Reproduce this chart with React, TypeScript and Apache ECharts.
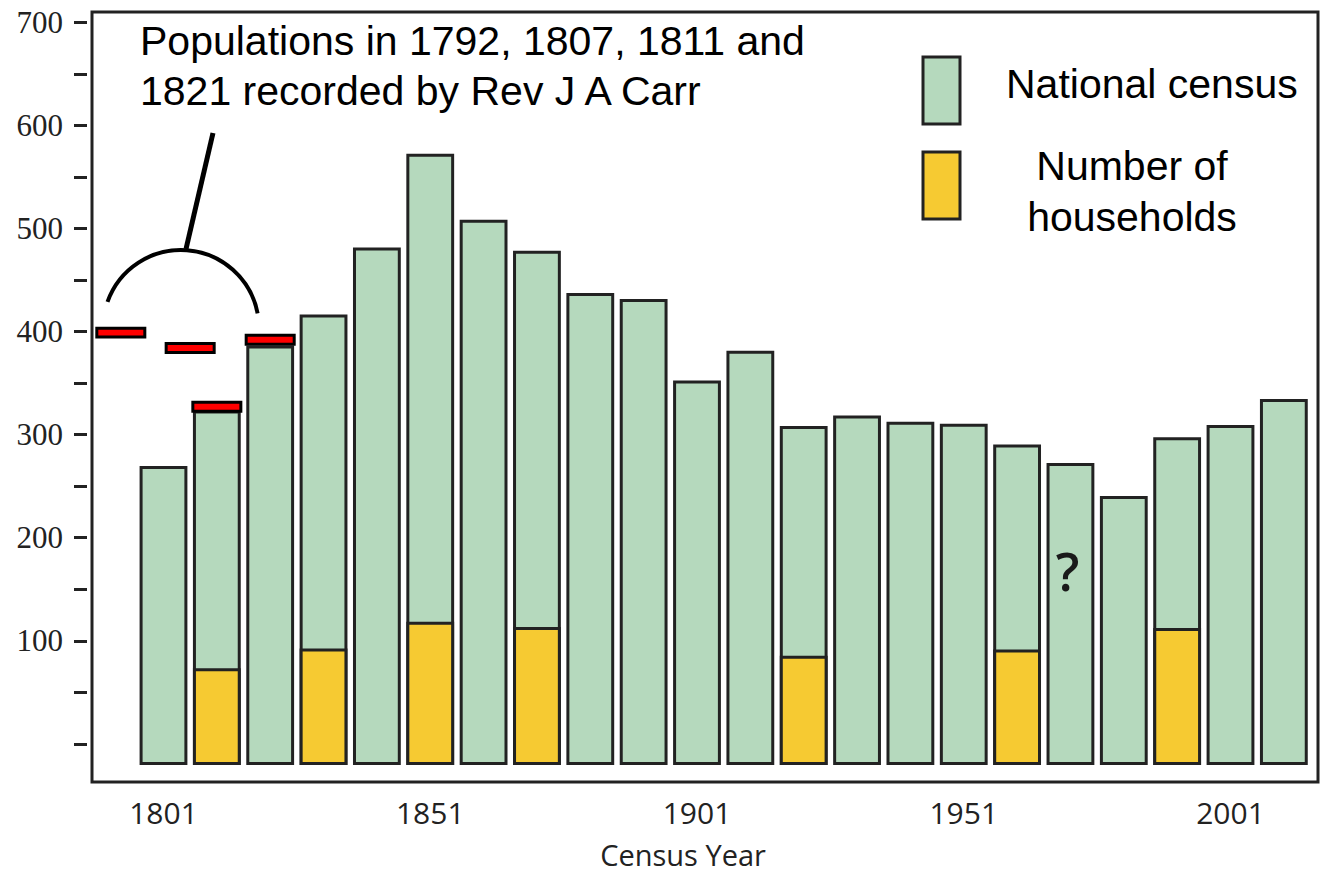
import React, { useEffect, useRef } from "react";
import * as echarts from "echarts";

// ---- Data ----
const censusYears = [1801, 1811, 1821, 1831, 1841, 1851, 1861, 1871, 1881, 1891, 1901, 1911, 1921, 1931, 1941, 1951, 1961, 1971, 1981, 1991, 2001, 2011];
const censusPopulation = [268, 322, 385, 415, 480, 571, 507, 477, 436, 430, 351, 380, 307, 317, 311, 309, 289, 271, 239, 296, 308, 333];

const householdYears = [1811, 1831, 1851, 1871, 1921, 1961, 1991];
const householdCounts = [72, 91, 117, 112, 84, 90, 111];

// Rev J A Carr records (plotted positions as drawn: 1792, 1807, 1811, 1821)
const carrYears = [1793, 1806, 1811, 1821];
const carrPopulation = [399, 384, 327, 392];

const uncertainYears = [1971];
const uncertainLabelValue = [166];

const yTickValues = [0, 50, 100, 150, 200, 250, 300, 350, 400, 450, 500, 550, 600, 650, 700];
const yLabelValues = [100, 200, 300, 400, 500, 600, 700];
const xLabelValues = [1801, 1851, 1901, 1951, 2001];

// ---- Styling constants ----
const GREEN = "#b5d9bd";
const YELLOW = "#f6ca32";
const RED = "#ff0000";
const INK = "#222222";
const BAR_BASE = -19;
const BAR_SPAN = 8.4; // years
const MARK_SPAN = 9; // years
const MARK_HALF = 4.3; // value units

function barRender(fill: string) {
  return (params: any, api: any) => {
    const x = api.value(0);
    const v = api.value(1);
    const p0 = api.coord([x, BAR_BASE]);
    const p1 = api.coord([x, v]);
    const w = api.size([BAR_SPAN, 0])[0];
    return {
      type: "rect",
      shape: { x: p0[0] - w / 2, y: p1[1], width: w, height: p0[1] - p1[1] },
      style: { fill, stroke: INK, lineWidth: 3 },
    };
  };
}

function markRender(params: any, api: any) {
  const x = api.value(0);
  const v = api.value(1);
  const pTop = api.coord([x, v + MARK_HALF]);
  const pBot = api.coord([x, v - MARK_HALF]);
  const w = api.size([MARK_SPAN, 0])[0];
  return {
    type: "rect",
    shape: { x: pTop[0] - w / 2, y: pTop[1], width: w, height: pBot[1] - pTop[1] },
    style: { fill: RED, stroke: "#000", lineWidth: 3 },
  };
}

export default function App() {
  const ref = useRef<HTMLDivElement>(null);
  useEffect(() => {
    if (!ref.current) return;
    const chart = echarts.init(ref.current, undefined, { renderer: "svg" });
    const sans = "'Liberation Sans', Arial, sans-serif";
    chart.setOption({
      animation: false,
      backgroundColor: "#ffffff",
      grid: {
        left: 92,
        right: 8,
        top: 12,
        bottom: 94,
        show: true,
        borderColor: INK,
        borderWidth: 3,
        backgroundColor: "transparent",
      },
      xAxis: {
        type: "value",
        min: 1787.6,
        max: 2017.4,
        name: "Census Year",
        nameLocation: "middle",
        nameGap: 58,
        nameTextStyle: { fontFamily: "'Open Sans'", fontSize: 29, color: INK, padding: [0, 44, 0, 0] },
        axisLine: { show: false },
        axisTick: { show: false },
        splitLine: { show: false },
        axisLabel: {
          customValues: xLabelValues,
          formatter: (v: number) => String(v),
          fontFamily: "'Open Sans'",
          fontSize: 30,
          color: INK,
          margin: 15,
        },
      },
      yAxis: {
        type: "value",
        min: -37,
        max: 710,
        offset: 5,
        axisLine: { show: false },
        splitLine: { show: false },
        axisTick: {
          show: true,
          length: 13,
          customValues: yTickValues,
          lineStyle: { color: INK, width: 3 },
        },
        axisLabel: {
          customValues: yLabelValues,
          formatter: (v: number) => String(v),
          fontFamily: "'Liberation Serif', serif",
          fontSize: 31,
          color: INK,
          margin: 24,
        },
      },
      series: [
        {
          name: "National census",
          type: "custom",
          renderItem: barRender(GREEN),
          data: censusYears.map((y, i) => [y, censusPopulation[i]]),
          z: 2,
        },
        {
          name: "Number of households",
          type: "custom",
          renderItem: barRender(YELLOW),
          data: householdYears.map((y, i) => [y, householdCounts[i]]),
          z: 3,
        },
        {
          name: "Rev J A Carr",
          type: "custom",
          renderItem: markRender,
          data: carrYears.map((y, i) => [y, carrPopulation[i]]),
          z: 4,
        },
        {
          name: "Uncertain",
          type: "scatter",
          symbolSize: 0,
          data: uncertainYears.map((y, i) => [y, uncertainLabelValue[i]]),
          itemStyle: { opacity: 1 },
          label: {
            show: true,
            position: "inside",
            formatter: "?",
            fontFamily: "'Open Sans'",
            fontWeight: 600,
            fontSize: 52,
            color: "#1a1a1a",
            offset: [-3, -2],
          },
          z: 5,
        },
      ],
      graphic: [
        {
          type: "text",
          left: 140,
          top: 16,
          style: {
            text: "Populations in 1792, 1807, 1811 and\n1821 recorded by Rev J A Carr",
            font: `41px ${sans}`,
            fill: "#000",
            lineHeight: 50,
          },
          z: 10,
        },
        {
          type: "line",
          shape: { x1: 213, y1: 133, x2: 186, y2: 249 },
          style: { stroke: "#000", lineWidth: 5 },
          z: 10,
        },
        {
          type: "arc",
          shape: { cx: 181, cy: 328, r: 78, startAngle: -2.8, endAngle: -0.19, clockwise: true },
          style: { stroke: "#000", lineWidth: 4, fill: "none" },
          z: 10,
        },
        {
          type: "rect",
          shape: { x: 923, y: 57, width: 37, height: 67 },
          style: { fill: GREEN, stroke: INK, lineWidth: 3 },
          z: 10,
        },
        {
          type: "rect",
          shape: { x: 923, y: 152, width: 37, height: 67 },
          style: { fill: YELLOW, stroke: INK, lineWidth: 3 },
          z: 10,
        },
        {
          type: "text",
          x: 1006,
          y: 84,
          style: {
            text: "National census",
            font: `41px ${sans}`,
            fill: "#000",
            verticalAlign: "middle",
          },
          z: 10,
        },
        {
          type: "text",
          x: 1132,
          y: 191,
          style: {
            text: "Number of\nhouseholds",
            font: `41px ${sans}`,
            fill: "#000",
            align: "center",
            verticalAlign: "middle",
            lineHeight: 51,
          },
          z: 10,
        },
      ],
    });
    return () => chart.dispose();
  }, []);
  return (
    <div
      ref={ref}
      style={{ position: "fixed", left: 0, top: 0, width: 1326, height: 876 }}
    />
  );
}
